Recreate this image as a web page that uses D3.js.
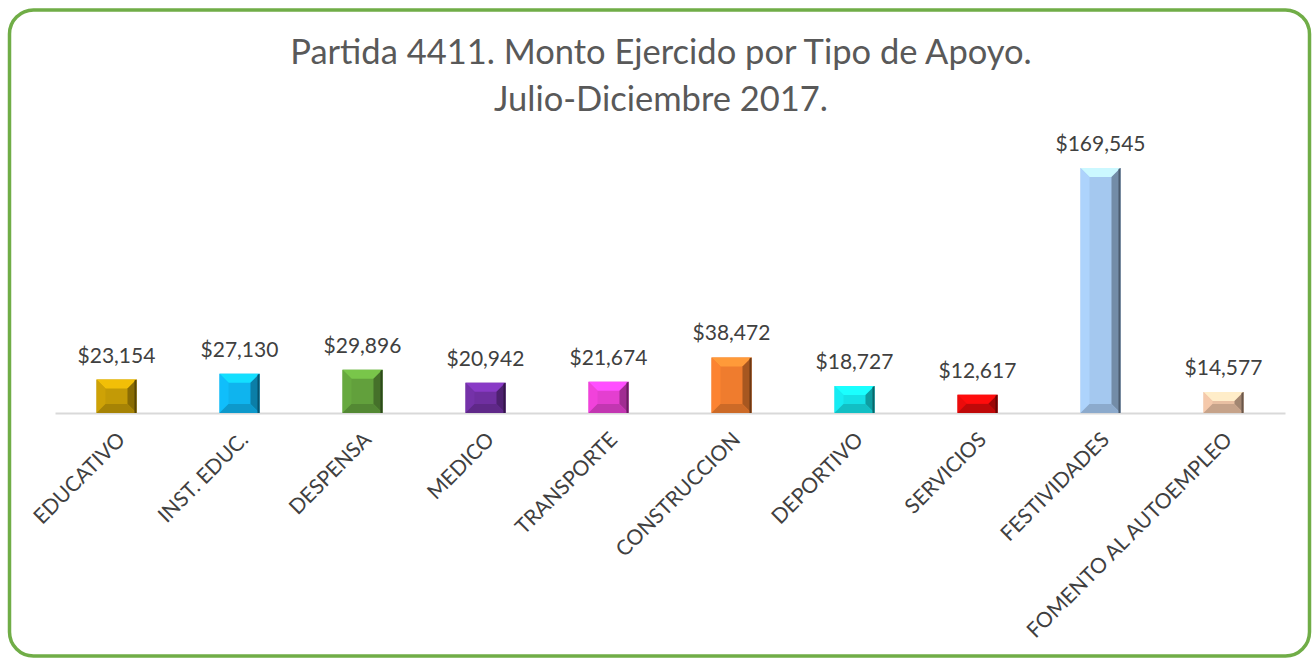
<!DOCTYPE html>
<html>
<head>
<meta charset="utf-8">
<script src="https://cdn.jsdelivr.net/npm/d3@7"></script>
<style>
  body { margin: 0; background: #fff; }
  svg { display: block; }
  text { font-family: Lato, "Open Sans", sans-serif; }
</style>
</head>
<body>
<div id="chart"></div>
<script>
const categories = ["EDUCATIVO", "INST. EDUC.", "DESPENSA", "MEDICO", "TRANSPORTE",
                    "CONSTRUCCION", "DEPORTIVO", "SERVICIOS", "FESTIVIDADES", "FOMENTO AL AUTOEMPLEO"]
const values = [23154, 27130, 29896, 20942, 21674, 38472, 18727, 12617, 169545, 14577]
const barColors = ["#c39a06", "#0fb4ee", "#62a03c", "#6f2fa0", "#e43fd0",
                   "#ef7c2e", "#15e0e6", "#e00a0a", "#a4c8ef", "#e8bfa2"]
const titleLines = ["Partida 4411. Monto Ejercido por Tipo de Apoyo.", "Julio-Diciembre 2017."]

const W = 1313, H = 660
const baseY = 413

const svg = d3.select("#chart")
              .append("svg")
              .attr("width", W)
              .attr("height", H)

// outer rounded frame
svg.append("rect")
   .attr("x", 9.5)
   .attr("y", 10)
   .attr("width", 1300)
   .attr("height", 646)
   .attr("rx", 24)
   .attr("fill", "#fff")
   .attr("stroke", "#70ad47")
   .attr("stroke-width", 3.5)

svg.append("g")
   .selectAll("text")
   .data(titleLines)
   .join("text")
   .attr("x", 661)
   .attr("y", (d, i) => 64 + i * 47)
   .attr("text-anchor", "middle")
   .attr("fill", "#595959")
   .style("font-size", "34.5px")
   .text(d => d)

const xScale = d3.scaleBand()
                 .domain(categories)
                 .range([55, 1285])
                 .paddingInner(0.675)
                 .paddingOuter(0.3375)

const yScale = d3.scaleLinear()
                 .domain([0, 180000])
                 .range([baseY, 153])

// axis line only, labels drawn rotated below
const xAxis = d3.axisBottom(xScale).tickSize(0).tickFormat("")
svg.append("g")
   .attr("class", "x-axis")
   .attr("transform", `translate(0, ${baseY})`)
   .call(xAxis)
   .call(g => g.select(".domain").attr("stroke", "#d9d9d9").attr("stroke-width", 2))

const data = categories.map((c, i) => ({ cat: c, value: values[i], color: barColors[i] }))

// bevelled bars
const bars = svg.append("g")
                .selectAll(".bar")
                .data(data)
                .join("g")
                .attr("class", "bar")

function faces(d) {
    const x0 = xScale(d.cat), x1 = x0 + xScale.bandwidth()
    const y0 = yScale(d.value), y1 = yScale(0)
    const b = Math.min(9, (y1 - y0) / 2, (x1 - x0) / 2)
    const c = d3.color(d.color)
    return [
        { pts: [[x0, y0], [x1, y0], [x1, y1], [x0, y1]], fill: c.formatHex() },
        { pts: [[x0, y0], [x1, y0], [x1 - b, y0 + b], [x0 + b, y0 + b]], fill: c.brighter(0.6).formatHex() },
        { pts: [[x0, y0], [x0 + b, y0 + b], [x0 + b, y1 - b], [x0, y1]], fill: c.brighter(0.15).formatHex() },
        { pts: [[x1, y0], [x1 - b, y0 + b], [x1 - b, y1 - b], [x1, y1]], fill: c.darker(1.0).formatHex() },
        { pts: [[x0, y1], [x0 + b, y1 - b], [x1 - b, y1 - b], [x1, y1]], fill: c.darker(0.45).formatHex() },
        { pts: [[x1 - 2, y0 + 1], [x1, y0], [x1, y1], [x1 - 2, y1]], fill: c.darker(2.2).formatHex() }
    ]
}

bars.selectAll("polygon")
    .data(d => faces(d))
    .join("polygon")
    .attr("points", f => f.pts.map(p => p.join(",")).join(" "))
    .attr("fill", f => f.fill)

// value labels
svg.append("g")
   .selectAll(".value")
   .data(data)
   .join("text")
   .attr("class", "value")
   .attr("x", d => xScale(d.cat) + xScale.bandwidth() / 2)
   .attr("y", d => yScale(d.value) - 17)
   .attr("text-anchor", "middle")
   .attr("fill", "#404040")
   .style("font-size", "21px")
   .text(d => "$" + d3.format(",")(d.value))

// category labels
svg.append("g")
   .selectAll(".cat")
   .data(categories)
   .join("text")
   .attr("class", "cat")
   .attr("text-anchor", "end")
   .attr("transform", d => `translate(${xScale(d) + xScale.bandwidth() / 2 + 10}, 441) rotate(-45)`)
   .attr("fill", "#404040")
   .style("font-size", "21px")
   .text(d => d)
</script>
</body>
</html>
